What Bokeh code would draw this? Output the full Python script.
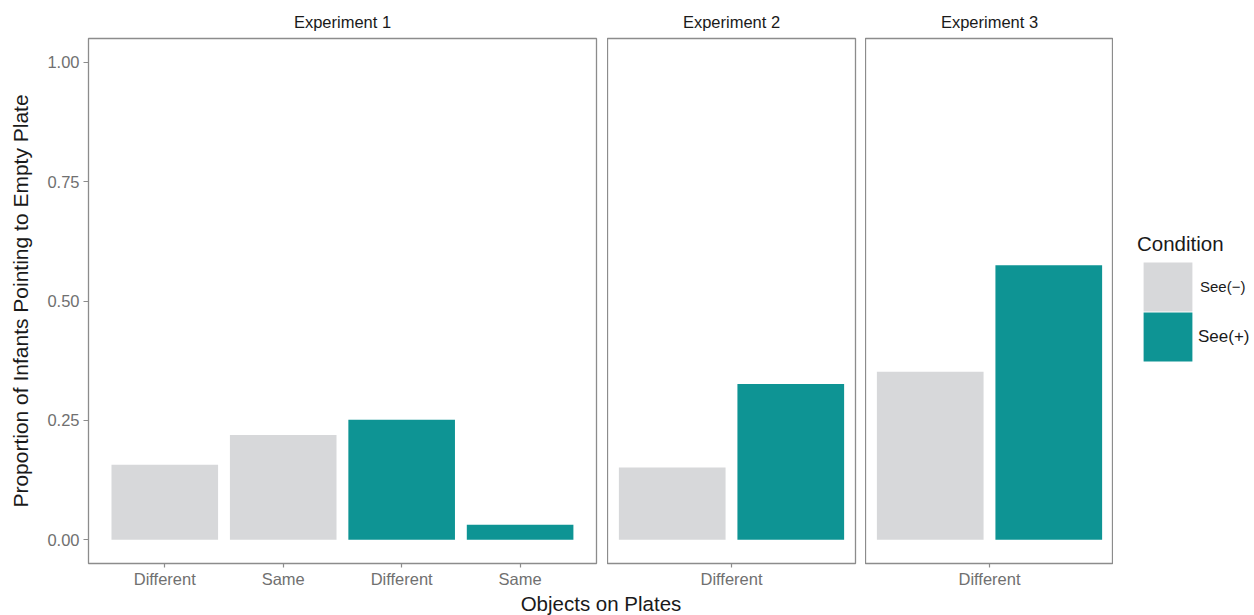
from bokeh.plotting import figure
from bokeh.models import (Range1d, FixedTicker, Legend, LegendItem, Label,
                          ColumnDataSource, NumeralTickFormatter)
from bokeh.transform import factor_cmap
from bokeh.layouts import row, column
from bokeh.embed import file_html
from bokeh.resources import INLINE

# ---------------- data ----------------
panel_titles = ["Experiment 1", "Experiment 2", "Experiment 3"]

exp1_objects = ["Different", "Same", "Different", "Same"]
exp1_condition = ["See(−)", "See(−)", "See(+)", "See(+)"]
exp1_values = [0.157, 0.219, 0.251, 0.031]

exp2_objects = ["Different", "Different"]
exp2_condition = ["See(−)", "See(+)"]
exp2_values = [0.151, 0.326]

exp3_objects = ["Different", "Different"]
exp3_condition = ["See(−)", "See(+)"]
exp3_values = [0.352, 0.575]

conditions = ["See(−)", "See(+)"]
condition_colors = ["#D7D8DA", "#0E9494"]
y_ticks = [0, 0.25, 0.5, 0.75, 1.0]

FONT = "Liberation Sans"
DARK = "#1a1a1a"
TICKGRAY = "#707070"
BORDER = "#8c8c8c"
FRAME_H = 525
TOP = 38
BOTTOM = 27
ROW_H = TOP + FRAME_H + BOTTOM


def bar_source(objects, conds, values, dodge):
    if dodge:
        xs = [1 + (conditions.index(c) - 0.5) for c in conds]
    else:
        xs = [i + 1 for i in range(len(objects))]
    return ColumnDataSource(dict(x=xs, top=values, condition=conds))


def make_panel(title, objects, conds, values, dodge, frame_width, xr,
               first=False, border_right=0):
    if dodge:
        ticks = [1]
        labels = {1: objects[0]}
    else:
        ticks = [i + 1 for i in range(len(objects))]
        labels = {i + 1: o for i, o in enumerate(objects)}
    src = bar_source(objects, conds, values, dodge)
    p = figure(output_backend="svg", toolbar_location=None,
               frame_width=frame_width, frame_height=FRAME_H,
               x_range=Range1d(*xr), y_range=Range1d(-0.05, 1.05),
               min_border_left=88 if first else 0,
               min_border_right=border_right,
               min_border_top=TOP, min_border_bottom=BOTTOM,
               y_axis_location="left" if first else None,
               title=title)
    p.vbar(x="x", top="top", bottom=0, width=0.9, source=src,
           fill_color=factor_cmap("condition", palette=condition_colors,
                                  factors=conditions),
           line_color=None)
    p.grid.visible = False
    p.outline_line_color = BORDER
    p.outline_line_width = 1.3
    p.background_fill_color = "white"
    p.border_fill_color = "white"

    p.title.align = "center"
    p.title.text_font = FONT
    p.title.text_font_size = "16.5px"
    p.title.text_font_style = "normal"
    p.title.text_color = DARK
    p.title.standoff = 15

    for ax in p.axis:
        ax.axis_line_color = None
        ax.major_tick_out = 4
        ax.major_tick_in = 0
        ax.minor_tick_line_color = None
        ax.major_tick_line_color = BORDER
        ax.major_tick_line_width = 1.2
        ax.major_label_text_font = FONT
        ax.major_label_text_font_size = "16.5px"
        ax.major_label_text_color = TICKGRAY

    p.xaxis.ticker = FixedTicker(ticks=ticks)
    p.xaxis.major_label_overrides = labels
    p.xaxis.major_label_standoff = 2

    if first:
        p.yaxis.major_tick_out = 5
        p.yaxis.ticker = FixedTicker(ticks=y_ticks)
        p.yaxis.formatter = NumeralTickFormatter(format="0.00")
        p.yaxis.major_label_standoff = 4
        p.yaxis.axis_label = "Proportion of Infants Pointing to Empty Plate"
        p.yaxis.axis_label_text_font = FONT
        p.yaxis.axis_label_text_font_size = "21px"
        p.yaxis.axis_label_text_font_style = "normal"
        p.yaxis.axis_label_text_color = DARK
        p.yaxis.axis_label_standoff = 12
    return p


p1 = make_panel(panel_titles[0], exp1_objects, exp1_condition, exp1_values,
                False, 508, (0.356, 4.645), first=True, border_right=11)
p2 = make_panel(panel_titles[1], exp2_objects, exp2_condition, exp2_values,
                True, 248, (1 - 1.046, 1 + 1.046), border_right=10)
p3 = make_panel(panel_titles[2], exp3_objects, exp3_condition, exp3_values,
                True, 248, (1 - 1.046, 1 + 1.046), border_right=0)

# ---------------- legend figure ----------------
lf = figure(output_backend="svg", toolbar_location=None,
            width=141, height=ROW_H,
            min_border_left=0, min_border_right=0,
            min_border_top=0, min_border_bottom=0,
            x_axis_location=None, y_axis_location=None,
            x_range=Range1d(0, 1), y_range=Range1d(0, 1),
            outline_line_color=None)
lf.grid.visible = False
key_src = bar_source(exp3_objects, exp3_condition, exp3_values, True)
key_r = lf.vbar(x="x", top="top", bottom=0, width=0.9, source=key_src,
                fill_color=factor_cmap("condition", palette=condition_colors,
                                       factors=conditions),
                line_color=None)
key_r.visible = False

common = dict(padding=0, margin=0, spacing=0, glyph_width=61, glyph_height=61,
              border_line_color=None, background_fill_alpha=0,
              label_text_font=FONT, label_text_color=DARK)
leg1 = Legend(items=[LegendItem(label=conditions[0], renderers=[key_r], index=0)],
              location=(24, ROW_H - 344), title="Condition", title_text_font=FONT,
              title_text_font_size="20.5px", title_text_font_style="normal",
              title_text_color=DARK, title_standoff=0,
              label_standoff=2, label_text_font_size="15px", **common)
leg2 = Legend(items=[LegendItem(label=conditions[1], renderers=[key_r], index=1)],
              location=(24, ROW_H - 394), label_standoff=0,
              label_text_font_size="17px", **common)
lf.add_layout(leg1)
lf.add_layout(leg2)

# ---------------- x-axis title figure ----------------
tf = figure(output_backend="svg", toolbar_location=None,
            width=1254, height=615 - ROW_H,
            min_border_left=88, min_border_right=141,
            min_border_top=0, min_border_bottom=0,
            x_axis_location=None, y_axis_location=None,
            x_range=Range1d(0, 1), y_range=Range1d(0, 1),
            outline_line_color=None)
tf.grid.visible = False
tf.add_layout(Label(x=0.5, y=0.5, text="Objects on Plates",
                    text_align="center", text_baseline="middle",
                    text_font=FONT, text_font_size="20.5px",
                    text_color=DARK))

layout = column(row(p1, p2, p3, lf), tf)
open("out.html", "w").write(file_html(layout, INLINE))
